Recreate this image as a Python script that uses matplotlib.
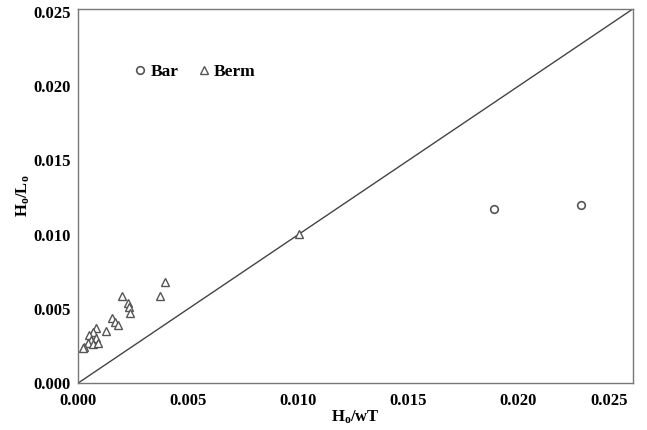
import matplotlib
matplotlib.use('Agg')
import matplotlib.pyplot as plt
import numpy as np

plt.rcParams['font.family'] = ['Liberation Serif', 'DejaVu Serif']
plt.rcParams['font.weight'] = 'bold'
plt.rcParams['mathtext.fontset'] = 'custom'
plt.rcParams['mathtext.rm'] = 'Liberation Serif:bold'
plt.rcParams['mathtext.it'] = 'Liberation Serif:bold'
plt.rcParams['mathtext.bf'] = 'Liberation Serif:bold'

# Bar 数据
bar_x = [0.01888, 0.02284]
bar_y = [0.01176, 0.01203]

# Berm 数据
berm_x = [0.01005, 0.00395, 0.00372, 0.00201, 0.00227, 0.00231, 0.00237,
          0.00153, 0.00168, 0.00183, 0.00126, 0.00081, 0.00066, 0.00051,
          0.00081, 0.00059, 0.00044, 0.00028, 0.00066, 0.00089, 0.00021]
berm_y = [0.01005, 0.00680, 0.00590, 0.00590, 0.00539, 0.00516, 0.00475,
          0.00441, 0.00410, 0.00390, 0.00351, 0.00370, 0.00347, 0.00324,
          0.00302, 0.00290, 0.00268, 0.00245, 0.00261, 0.00268, 0.00234]

ticks = [0.000, 0.005, 0.010, 0.015, 0.020, 0.025]
lim = 0.0252

fig = plt.figure(figsize=(6.47, 4.30), dpi=100)
ax = fig.add_axes([0.1206, 0.109, 0.8574, 0.870])

ax.plot([0, lim], [0, lim], color='#444444', linewidth=1.0, zorder=1)

ax.plot(bar_x, bar_y, linestyle='none', marker='o', markersize=5.5,
        markerfacecolor='white', markeredgecolor='#555555',
        markeredgewidth=1.2, label='Bar', zorder=3)
ax.plot(berm_x, berm_y, linestyle='none', marker='^', markersize=6,
        markerfacecolor='white', markeredgecolor='#555555',
        markeredgewidth=1.0, label='Berm', zorder=3)

ax.set_xlim(0, lim)
ax.set_ylim(0, lim)
ax.set_xticks(ticks)
ax.set_yticks(ticks)
ax.set_xticklabels([f'{t:.3f}' for t in ticks])
ax.set_yticklabels([f'{t:.3f}' for t in ticks])
ax.tick_params(length=0, labelsize=12)
ax.tick_params(axis='x', pad=7)
ax.tick_params(axis='y', pad=5)
for lab in ax.get_xticklabels() + ax.get_yticklabels():
    lab.set_fontweight('bold')
ax.get_xticklabels()[-1].set_horizontalalignment('right')

for s in ax.spines.values():
    s.set_color('#777777')
    s.set_linewidth(1.0)

ax.set_xlabel(r'H$_{\mathrm{o}}$/wT', fontsize=12, fontweight='bold', labelpad=0)
ax.set_ylabel(r'H$_{\mathrm{o}}$/L$_{\mathrm{o}}$', fontsize=12, fontweight='bold', labelpad=1)

leg = ax.legend(loc='center left', bbox_to_anchor=(0.068, 0.832), ncol=2,
                frameon=False, handletextpad=0.1, columnspacing=0.95,
                handlelength=1.0, prop={'weight': 'bold', 'size': 12.5})

fig.savefig('out.png', dpi=100)
